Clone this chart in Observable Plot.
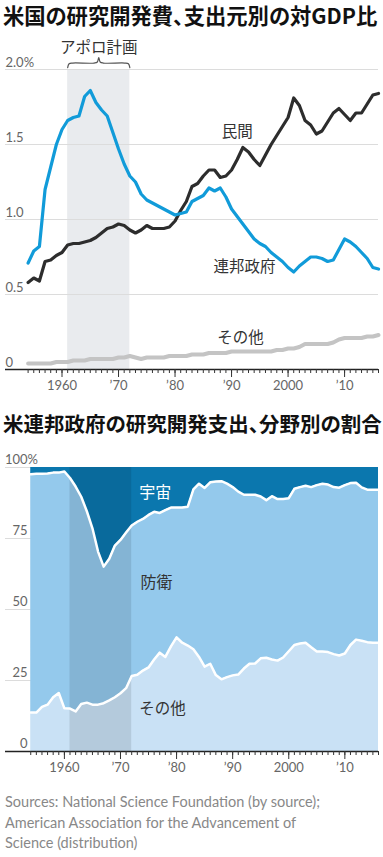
<!DOCTYPE html>
<html><head><meta charset="utf-8">
<script src="https://cdn.jsdelivr.net/npm/d3@7"></script>
<script src="https://cdn.jsdelivr.net/npm/@observablehq/plot@0.6"></script>
<style>
body{margin:0;width:383px;height:857px;position:relative;background:#fff;font-family:Lato,"Noto Sans CJK JP",sans-serif;overflow:hidden}
.title{position:absolute;left:3px;font-family:"Noto Sans CJK JP",sans-serif;font-weight:700;color:#111;white-space:nowrap;font-feature-settings:"palt";line-height:1}
#t1{top:4px;font-size:21.3px}
#t2{top:413px;font-size:20.5px}
#c1{position:absolute;top:36px;left:0}
#c2{position:absolute;top:440px;left:0}
#src{position:absolute;left:5px;top:792px;font-size:14.5px;line-height:20.7px;color:#888;font-family:Lato,sans-serif}
svg{overflow:visible}
</style></head><body>
<div class="title" id="t1">米国の研究開発費、支出元別の対GDP比</div>
<div id="c1"></div>
<div class="title" id="t2">米連邦政府の研究開発支出、分野別の割合</div>
<div id="c2"></div>
<div id="src">Sources: National Science Foundation (by source);<br>American Association for the Advancement of<br>Science (distribution)</div>
<script>
// ---------- data ----------
const years = d3.range(1954, 2017);
// R&D as % of GDP, by source
const federal = [0.71,0.79,0.82,1.20,1.35,1.50,1.60,1.66,1.68,1.69,1.82,1.86,1.78,1.73,1.69,1.58,1.47,1.37,1.29,1.25,1.17,1.13,1.11,1.09,1.07,1.05,1.03,1.04,1.05,1.12,1.14,1.16,1.21,1.19,1.21,1.15,1.07,1.02,0.97,0.92,0.87,0.84,0.82,0.78,0.75,0.72,0.68,0.65,0.69,0.72,0.75,0.75,0.74,0.72,0.73,0.80,0.87,0.85,0.82,0.78,0.74,0.68,0.67];
const privateSector = [0.58,0.61,0.59,0.72,0.73,0.76,0.78,0.83,0.84,0.84,0.85,0.86,0.88,0.91,0.94,0.95,0.97,0.96,0.93,0.91,0.93,0.96,0.94,0.94,0.94,0.95,0.99,1.06,1.12,1.22,1.24,1.29,1.33,1.33,1.28,1.29,1.33,1.40,1.48,1.45,1.40,1.36,1.43,1.50,1.56,1.62,1.68,1.81,1.76,1.66,1.63,1.57,1.59,1.65,1.71,1.74,1.70,1.66,1.71,1.71,1.77,1.83,1.84];
const otherSource = [0.04,0.04,0.04,0.04,0.04,0.05,0.05,0.05,0.06,0.06,0.06,0.07,0.07,0.07,0.07,0.07,0.08,0.08,0.09,0.08,0.07,0.08,0.08,0.08,0.08,0.09,0.09,0.09,0.09,0.10,0.10,0.10,0.11,0.11,0.11,0.11,0.12,0.12,0.12,0.12,0.12,0.12,0.12,0.12,0.13,0.13,0.14,0.14,0.15,0.17,0.17,0.17,0.17,0.17,0.18,0.20,0.21,0.21,0.21,0.21,0.22,0.22,0.23];
// Federal R&D share by field (%)
const otherShare = [13.7,13.7,15.7,16.5,19.1,20.6,15.2,15.1,14.1,16.7,17.2,16.5,16.5,17.0,18.0,19.1,20.5,22.3,26.6,27.0,28.5,29.6,32.4,34.8,33.3,37.0,40.2,38.3,37.3,36.0,33.3,29.9,30.9,26.9,25.4,26.2,26.8,27.1,29.2,30.9,31.0,32.8,33.0,32.4,32.0,33.1,35.3,37.5,38.0,38.3,36.7,35.2,35.2,35.0,34.3,33.8,34.5,37.5,39.4,39.0,38.5,38.3,38.3];
const defenseShare = [83.9,84.1,82.1,81.4,79.1,77.6,83.4,81.2,79.2,73.0,67.4,62.1,53.9,48.1,49.9,53.4,54.0,54.8,53.0,53.9,53.4,53.7,52.0,49.2,51.7,48.9,45.7,47.6,48.9,56.3,61.0,62.9,63.9,68.2,69.8,68.1,66.3,64.4,61.2,59.5,59.4,57.0,55.5,57.5,56.9,55.8,53.9,55.0,55.1,55.3,56.4,58.6,59.1,59.0,58.8,59.1,59.3,57.0,55.2,54.0,53.7,53.9,53.9];
const spaceShare = otherShare.map((v, i) => +(100 - v - defenseShare[i]).toFixed(1));
const apollo = {start: 1961, end: 1972, label: "アポロ計画"};
const topTicks = [0, 0.5, 1, 1.5, 2];
const topTickLabels = ["0", "0.5", "1.0", "1.5", "2.0%"];
const pctTicks = [0, 25, 50, 75, 100];
const pctTickLabels = ["0", "25", "50", "75", "100"];
const decadeYears = [1960, 1970, 1980, 1990, 2000, 2010];
const decadeLabels = ["1960", "’70", "’80", "’90", "2000", "’10"];
const seriesLabels = {priv: "民間", fed: "連邦政府", other: "その他"};
const fieldLabels = {space: "宇宙", defense: "防衛", other: "その他"};

// ---------- styles ----------
const cjk = "'Noto Sans CJK JP', sans-serif";
const axisFont = {fontFamily: "Lato, sans-serif", fontSize: "13px", color: "#666", background: "transparent", overflow: "visible"};

function xAxes() {
  return [
    Plot.ruleY([0], {stroke: "#222", strokeWidth: 1.5}),
    Plot.axisX({ticks: years, tickSize: 4, tickFormat: () => "", stroke: "#333"}),
    Plot.axisX({ticks: decadeYears, tickSize: 8, tickPadding: 3, stroke: "#333", fill: "#666",
      tickFormat: d => decadeLabels[decadeYears.indexOf(d)]})
  ];
}

// ---------- chart 1 ----------
const mid = (apollo.start + apollo.end) / 2;
const brace = [
  [apollo.start, 2.012], [apollo.start + 0.25, 2.038], [apollo.start + 0.9, 2.043],
  [mid - 0.8, 2.043], [mid - 0.25, 2.05], [mid, 2.08], [mid + 0.25, 2.05], [mid + 0.8, 2.043],
  [apollo.end - 0.9, 2.043], [apollo.end - 0.25, 2.038], [apollo.end, 2.012]
];
const chart1 = Plot.plot({
  width: 383, height: 360, marginTop: 33, marginBottom: 27, marginLeft: 5, marginRight: 5,
  x: {domain: [1950, 2016]}, y: {domain: [0, 2], axis: null},
  style: axisFont,
  marks: [
    Plot.rect([apollo], {x1: "start", x2: "end", y1: 0, y2: 2, fill: "#e9ebee"}),
    Plot.ruleY(topTicks.slice(1), {stroke: "#dcdcdc"}),
    Plot.text(topTicks, {y: d => d, text: (d, i) => topTickLabels[i], frameAnchor: "left", textAnchor: "start", dy: -7, fill: "#666"}),
    Plot.line(years, {x: d => d, y: (d, i) => otherSource[i], stroke: "#c4c4c4", strokeWidth: 4}),
    Plot.line(years, {x: d => d, y: (d, i) => privateSector[i], stroke: "#2d2d2d", strokeWidth: 3.2}),
    Plot.line(years, {x: d => d, y: (d, i) => federal[i], stroke: "#119bd9", strokeWidth: 3.2}),
    ...xAxes(),
    Plot.line(brace, {x: d => d[0], y: d => d[1], stroke: "#555", strokeWidth: 1.2, curve: "catmull-rom"}),
    Plot.text([apollo], {x: () => mid, y: () => 2.14, text: "label", fontFamily: cjk, fontSize: 15.5, fill: "#333"}),
    Plot.text([seriesLabels.priv], {x: () => 1991, y: () => 1.58, text: d => d, fontFamily: cjk, fontSize: 15.5, fill: "#333"}),
    Plot.text([seriesLabels.fed], {x: () => 1992.3, y: () => 0.68, text: d => d, fontFamily: cjk, fontSize: 15.5, fill: "#333"}),
    Plot.text([seriesLabels.other], {x: () => 1991.6, y: () => 0.213, text: d => d, fontFamily: cjk, fontSize: 15.5, fill: "#333"})
  ]
});
document.getElementById("c1").append(chart1);

// ---------- chart 2 ----------
const cumOther = otherShare;
const cumDef = otherShare.map((v, i) => v + defenseShare[i]);
const cumSpace = cumDef.map((v, i) => v + spaceShare[i]);
const chart2 = Plot.plot({
  width: 383, height: 340, marginTop: 27, marginBottom: 29, marginLeft: 5, marginRight: 5,
  x: {domain: [1949.5, 2016]}, y: {domain: [0, 100], axis: null},
  style: axisFont,
  marks: [
    Plot.ruleY(pctTicks.slice(1), {stroke: "#dcdcdc"}),
    Plot.text(pctTicks, {y: d => d, text: (d, i) => pctTickLabels[i], frameAnchor: "left", textAnchor: "end", dx: 22, dy: -8, fill: "#666"}),
    Plot.text([100], {y: d => d, text: () => "%", frameAnchor: "left", textAnchor: "start", dx: 22, dy: -8, fill: "#666"}),
    Plot.areaY(years, {x: d => d, y1: (d, i) => cumDef[i], y2: (d, i) => cumSpace[i], fill: "#0b77ae"}),
    Plot.areaY(years, {x: d => d, y1: (d, i) => cumOther[i], y2: (d, i) => cumDef[i], fill: "#94c9ec"}),
    Plot.areaY(years, {x: d => d, y1: 0, y2: (d, i) => cumOther[i], fill: "#c9e1f5"}),
    Plot.rect([apollo], {x1: "start", x2: "end", y1: 0, y2: 100, fill: "#000", fillOpacity: 0.1}),
    Plot.line(years, {x: d => d, y: (d, i) => cumDef[i], stroke: "#fff", strokeWidth: 2.5}),
    Plot.line(years, {x: d => d, y: (d, i) => cumOther[i], stroke: "#fff", strokeWidth: 2.5}),
    ...xAxes(),
    Plot.text([fieldLabels.space], {x: () => 1976.2, y: () => 91.2, text: d => d, fontFamily: cjk, fontSize: 16, fill: "#fff"}),
    Plot.text([fieldLabels.defense], {x: () => 1976.4, y: () => 59.2, text: d => d, fontFamily: cjk, fontSize: 16, fill: "#333"}),
    Plot.text([fieldLabels.other], {x: () => 1977.5, y: () => 14.8, text: d => d, fontFamily: cjk, fontSize: 15.5, fill: "#333"})
  ]
});
document.getElementById("c2").append(chart2);
</script>
</body></html>
